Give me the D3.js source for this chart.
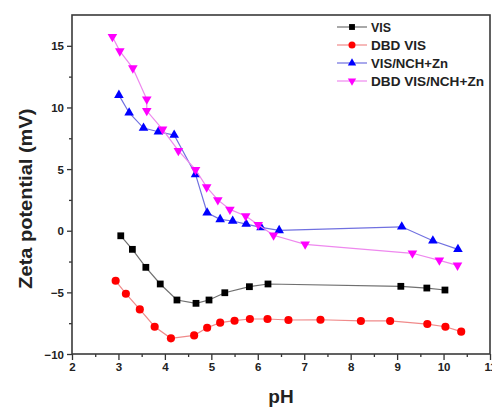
<!DOCTYPE html>
<html lang="en">
  <head>
    <meta charset="UTF-8" />
    <title>Zeta potential vs pH</title>
    <script src="https://d3js.org/d3.v7.min.js"></script>
    <style>
      body {
        margin: 0;
        background: #fff;
        font-family: "Liberation Sans", Arial, sans-serif;
      }
      text {
        font-family: "Liberation Sans", Arial, sans-serif;
      }
      .tick text {
        font-weight: bold;
        font-size: 11.5px;
        fill: #222;
      }
      .axis-title {
        font-weight: bold;
        font-size: 19px;
        fill: #222;
      }
      .legend text {
        font-weight: bold;
        font-size: 13px;
        fill: #222;
      }
    </style>
  </head>
  <body>
    <svg id="chart" width="492" height="407"></svg>

    <script>
      // Data
      const visPH = [3.05, 3.3, 3.59, 3.9, 4.26, 4.67, 4.95, 5.29, 5.82, 6.22, 9.08, 9.64, 10.03];
      const visZeta = [-0.41, -1.51, -2.97, -4.32, -5.62, -5.89, -5.62, -5.03, -4.54, -4.32, -4.51, -4.65, -4.81];

      const dbdPH = [2.94, 3.16, 3.46, 3.78, 4.13, 4.63, 4.91, 5.19, 5.5, 5.83, 6.21, 6.66, 7.35, 8.22, 8.85, 9.65, 10.04, 10.38];
      const dbdZeta = [-4.06, -5.11, -6.38, -7.79, -8.73, -8.49, -7.87, -7.46, -7.3, -7.16, -7.16, -7.24, -7.22, -7.32, -7.32, -7.57, -7.79, -8.19];

      const nchPH = [3.01, 3.23, 3.54, 3.86, 4.2, 4.66, 4.91, 5.19, 5.46, 5.75, 6.07, 6.46, 9.1, 9.77, 10.31];
      const nchZeta = [11.0, 9.57, 8.33, 8.03, 7.76, 4.57, 1.46, 0.92, 0.79, 0.54, 0.27, 0.03, 0.32, -0.81, -1.51];

      const dbdNchPH = [2.87, 3.03, 3.31, 3.61, 3.61, 3.95, 4.29, 4.66, 4.9, 5.14, 5.4, 5.74, 6.01, 6.34, 7.02, 9.33, 9.91, 10.3];
      const dbdNchZeta = [15.73, 14.57, 13.19, 10.66, 9.73, 8.22, 6.49, 4.95, 3.54, 2.5, 1.73, 1.19, 0.49, -0.37, -1.1, -1.83, -2.4, -2.81];

      const xTicks = [2, 3, 4, 5, 6, 7, 8, 9, 10, 11];
      const yTicks = [-10, -5, 0, 5, 10, 15];

      const series = [
        { name: "VIS", ph: visPH, zeta: visZeta, line: "#707070", color: "#000000", symbol: d3.symbolSquare, size: 46, rotate: 0, w: 20 },
        { name: "DBD VIS", ph: dbdPH, zeta: dbdZeta, line: "#f08a8a", color: "#ff0000", symbol: d3.symbolCircle, size: 52, rotate: 0, w: 55 },
        { name: "VIS/NCH+Zn", ph: nchPH, zeta: nchZeta, line: "#7070e0", color: "#0000ff", symbol: d3.symbolTriangle, size: 40, rotate: 0, w: 77 },
        { name: "DBD VIS/NCH+Zn", ph: dbdNchPH, zeta: dbdNchZeta, line: "#ee88ee", color: "#ff00ff", symbol: d3.symbolTriangle, size: 40, rotate: 180, w: 113 },
      ];

      const margin = { top: 15, right: 2, bottom: 53, left: 72 },
        width = 492 - margin.left - margin.right,
        height = 407 - margin.top - margin.bottom;

      const svg = d3
        .select("#chart")
        .append("g")
        .attr("transform", `translate(${margin.left},${margin.top})`);

      const x = d3.scaleLinear().domain([2, 11]).range([0, width]);
      const y = d3.scaleLinear().domain([-10, 17.5]).range([height, 0]);

      // Minor ticks
      svg
        .append("g")
        .attr("transform", `translate(0,${height})`)
        .call(d3.axisBottom(x).tickValues(d3.range(2.5, 11, 1)).tickSize(3).tickFormat(""))
        .call((g) => g.select(".domain").remove())
        .selectAll("line")
        .attr("stroke", "#333")
        .attr("stroke-width", 1.3);

      svg
        .append("g")
        .call(d3.axisLeft(y).tickValues([-7.5, -2.5, 2.5, 7.5, 12.5]).tickSize(3).tickFormat(""))
        .call((g) => g.select(".domain").remove())
        .selectAll("line")
        .attr("stroke", "#333")
        .attr("stroke-width", 1.3);

      // Major axes
      const xAxis = svg
        .append("g")
        .attr("transform", `translate(0,${height})`)
        .call(d3.axisBottom(x).tickValues(xTicks).tickSize(6).tickPadding(3).tickFormat(d3.format("d")));

      const yAxis = svg
        .append("g")
        .call(d3.axisLeft(y).tickValues(yTicks).tickSize(5).tickPadding(3).tickFormat(d3.format("d")));

      [xAxis, yAxis].forEach((a) => {
        a.select(".domain").remove();
        a.selectAll("line").attr("stroke", "#333").attr("stroke-width", 1.3);
      });
      yAxis.selectAll("text").attr("dy", "0.35em");

      // Frame
      svg
        .append("rect")
        .attr("width", width)
        .attr("height", height)
        .attr("fill", "none")
        .attr("stroke", "#3a3a3a")
        .attr("stroke-width", 1.6);

      // Lines and markers
      const line = d3
        .line()
        .x((d) => x(d[0]))
        .y((d) => y(d[1]));

      series.forEach((s) => {
        const pts = s.ph.map((p, i) => [p, s.zeta[i]]);
        svg
          .append("path")
          .datum(pts)
          .attr("fill", "none")
          .attr("stroke", s.line)
          .attr("stroke-width", 1.2)
          .attr("d", line);

        svg
          .selectAll(null)
          .data(pts)
          .enter()
          .append("path")
          .attr("d", d3.symbol().type(s.symbol).size(s.size))
          .attr("transform", (d) => `translate(${x(d[0])},${y(d[1])}) rotate(${s.rotate})`)
          .attr("fill", s.color);
      });

      // Legend
      const legend = svg
        .append("g")
        .attr("class", "legend")
        .attr("transform", `translate(${265},${12})`);

      series.forEach((s, i) => {
        const g = legend.append("g").attr("transform", `translate(0,${i * 18})`);
        g.append("line")
          .attr("x1", 0)
          .attr("x2", 30)
          .attr("stroke", s.line)
          .attr("stroke-width", 1.2);
        g.append("path")
          .attr("d", d3.symbol().type(s.symbol).size(s.size * 0.75))
          .attr("transform", `translate(15,0) rotate(${s.rotate})`)
          .attr("fill", s.color);
        g.append("text")
          .attr("x", 34)
          .attr("dy", "0.36em")
          .attr("textLength", s.w)
          .attr("lengthAdjust", "spacingAndGlyphs")
          .text(s.name);
      });

      // Axis titles
      svg
        .append("text")
        .attr("class", "axis-title")
        .attr("text-anchor", "middle")
        .attr("x", width / 2)
        .attr("y", height + 49)
        .text("pH");

      svg
        .append("text")
        .attr("class", "axis-title")
        .attr("text-anchor", "middle")
        .attr("textLength", 180)
        .attr("lengthAdjust", "spacingAndGlyphs")
        .attr("transform", `translate(${-40},${y(2.6)}) rotate(-90)`)
        .text("Zeta potential (mV)");
    </script>
  </body>
</html>
